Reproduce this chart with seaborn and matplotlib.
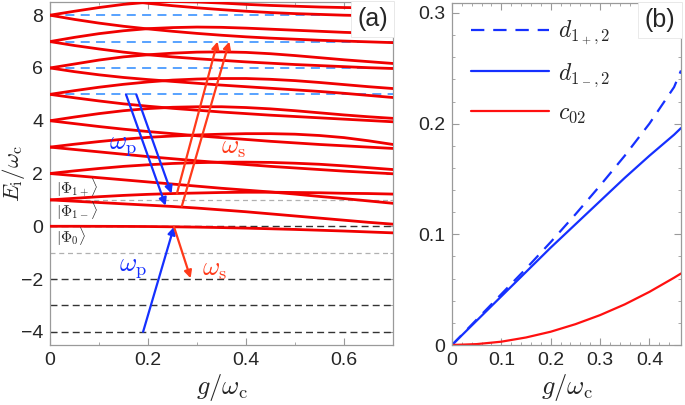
import numpy as np
import pandas as pd
import matplotlib
matplotlib.use("Agg")
import matplotlib.pyplot as plt
import seaborn as sns

# ---- panel (a): spectrum E_i / w_c vs g / w_c
g_a = [0.0, 0.05, 0.1, 0.15, 0.2, 0.25, 0.3, 0.35, 0.4, 0.45, 0.5, 0.55, 0.6, 0.65, 0.7]
e0 = [0, 0, -0.002, -0.005, -0.01, -0.02, -0.033, -0.05, -0.07, -0.095, -0.12, -0.15, -0.18, -0.215, -0.25]
e1_lo = [1.0, 0.95, 0.90, 0.85, 0.80, 0.75, 0.69, 0.62, 0.55, 0.47, 0.39, 0.31, 0.23, 0.15, 0.08]
e1_up = [1.0, 1.06, 1.12, 1.17, 1.21, 1.24, 1.26, 1.28, 1.29, 1.29, 1.28, 1.27, 1.25, 1.24, 1.22]
e2_lo = [2.0, 1.92, 1.84, 1.76, 1.68, 1.60, 1.52, 1.44, 1.37, 1.30, 1.22, 1.13, 1.05, 0.96, 0.87]
e2_up = [2.0, 2.1, 2.19, 2.27, 2.33, 2.38, 2.41, 2.43, 2.43, 2.42, 2.39, 2.35, 2.29, 2.22, 2.15]
e3_lo = [3, 2.91, 2.82, 2.73, 2.64, 2.56, 2.48, 2.41, 2.34, 2.27, 2.21, 2.15, 2.09, 2.04, 1.99]
e3_up = [3, 3.11, 3.21, 3.3, 3.37, 3.42, 3.46, 3.49, 3.51, 3.51, 3.49, 3.44, 3.36, 3.24, 3.1]
e4_lo = [4, 3.89, 3.78, 3.68, 3.59, 3.51, 3.43, 3.36, 3.29, 3.22, 3.16, 3.1, 3.05, 3.0, 2.95]
e4_up = [4, 4.14, 4.27, 4.38, 4.46, 4.51, 4.53, 4.53, 4.5, 4.45, 4.38, 4.3, 4.22, 4.15, 4.09]
e5_lo = [5, 4.87, 4.75, 4.64, 4.55, 4.47, 4.4, 4.33, 4.27, 4.21, 4.16, 4.11, 4.06, 4.01, 3.96]
e5_up = [5, 5.14, 5.27, 5.38, 5.47, 5.54, 5.58, 5.6, 5.6, 5.57, 5.52, 5.45, 5.37, 5.29, 5.22]
e6_lo = [6, 5.86, 5.74, 5.64, 5.56, 5.49, 5.42, 5.35, 5.29, 5.23, 5.17, 5.11, 5.04, 4.96, 4.88]
e6_up = [6, 6.15, 6.3, 6.42, 6.5, 6.56, 6.6, 6.61, 6.59, 6.54, 6.47, 6.39, 6.31, 6.24, 6.17]
e7_lo = [7, 6.85, 6.72, 6.6, 6.5, 6.42, 6.35, 6.29, 6.23, 6.18, 6.13, 6.09, 6.05, 6.01, 5.98]
e7_up = [7, 7.16, 7.3, 7.41, 7.49, 7.53, 7.55, 7.54, 7.51, 7.47, 7.43, 7.39, 7.35, 7.32, 7.3]
e8_lo = [8, 7.84, 7.7, 7.58, 7.48, 7.39, 7.31, 7.24, 7.18, 7.13, 7.09, 7.05, 7.02, 6.99, 6.96]
e8_up = [8, 8.15, 8.29, 8.41, 8.49, 8.52, 8.5, 8.46, 8.41, 8.37, 8.34, 8.31, 8.29, 8.28, 8.27]
e9_lo = [9, 8.83, 8.69, 8.56, 8.45, 8.36, 8.28, 8.21, 8.15, 8.1, 8.06, 8.03, 8.0, 7.98, 7.96]

levels_blue = [5, 6, 7, 8]
levels_gray = [1, -1]
levels_dark = [0, -2, -3, -4]

# transitions (start g, start E, end g, end E)
arrows_p = [(0.155, 5.0, 0.236, 0.78), (0.176, 5.0, 0.248, 1.24), (0.19, -4.0, 0.253, -0.02)]
arrows_s = [(0.259, 1.24, 0.342, 7.0), (0.269, 0.76, 0.366, 7.0), (0.253, -0.02, 0.287, -1.97)]

# ---- panel (b)
g_b = [0, 0.05, 0.1, 0.15, 0.2, 0.25, 0.3, 0.35, 0.4, 0.45, 0.464]
d1p = [0, 0.023, 0.046, 0.069, 0.093, 0.118, 0.144, 0.171, 0.2, 0.233, 0.248]
d1m = [0, 0.022, 0.044, 0.066, 0.088, 0.109, 0.13, 0.151, 0.171, 0.19, 0.196]
c02 = [0, 0.0008, 0.003, 0.0068, 0.012, 0.0188, 0.027, 0.0367, 0.048, 0.0608, 0.0646]

sns.set_theme(style="white")
plt.rcParams["font.family"] = ["Liberation Sans", "DejaVu Sans"]
plt.rcParams["mathtext.fontset"] = "cm"

RED = "#f00000"
BLUE = "#1530ff"
ORANGE = "#ff3a1a"
FRAME = "#9a9a9a"

fig = plt.figure(figsize=(6.85, 4.05), dpi=100)
ax = fig.add_axes([50 / 685, 60 / 405, 343 / 685, 343 / 405])
bx = fig.add_axes([452 / 685, 60 / 405, 229 / 685, 342 / 405])


def style_axes(a):
    for s in a.spines.values():
        s.set_color(FRAME)
        s.set_linewidth(0.9)
    a.tick_params(which="both", direction="in", color=FRAME, labelsize=14, pad=5,
                  bottom=True, left=True, top=True, right=True,
                  labeltop=False, labelright=False)
    a.tick_params(which="major", length=5, width=0.8)
    a.tick_params(which="minor", length=2.5, width=0.6)
    a.set_xlabel("")
    a.set_ylabel("")


# reference dashed levels
for y in levels_blue:
    ax.axhline(y, color="#4a9bff", lw=1.3, dashes=(5, 3.5), zorder=1)
for y in levels_gray:
    ax.axhline(y, color="#b0b0b0", lw=0.9, dashes=(4, 3), zorder=1)
for y in levels_dark:
    ax.axhline(y, color="#333333", lw=1.0, dashes=(5, 3), zorder=1)

curves = [e0, e1_lo, e1_up, e2_lo, e2_up, e3_lo, e3_up, e4_lo, e4_up,
          e5_lo, e5_up, e6_lo, e6_up, e7_lo, e7_up, e8_lo, e8_up, e9_lo]
for c in curves:
    sns.lineplot(x=g_a, y=c, ax=ax, color=RED, lw=2.0, zorder=3)

for (x0, y0, x1, y1) in arrows_p:
    ax.annotate("", xy=(x1, y1), xytext=(x0, y0),
                arrowprops=dict(arrowstyle="-|>", color=BLUE, lw=1.6,
                                mutation_scale=11, shrinkA=0, shrinkB=0), zorder=5)
for (x0, y0, x1, y1) in arrows_s:
    ax.annotate("", xy=(x1, y1), xytext=(x0, y0),
                arrowprops=dict(arrowstyle="-|>", color=ORANGE, lw=1.6,
                                mutation_scale=11, shrinkA=0, shrinkB=0), zorder=5)

ax.text(0.15, 3.05, r"$\omega_\mathrm{p}$", color=BLUE, fontsize=19, ha="center", va="center")
ax.text(0.375, 2.95, r"$\omega_\mathrm{s}$", color=ORANGE, fontsize=19, ha="center", va="center")
ax.text(0.17, -1.6, r"$\omega_\mathrm{p}$", color=BLUE, fontsize=19, ha="center", va="center")
ax.text(0.335, -1.65, r"$\omega_\mathrm{s}$", color=ORANGE, fontsize=19, ha="center", va="center")
ax.text(0.012, 1.45, r"$|\Phi_{1+}\rangle$", color="#222222", fontsize=11, ha="left", va="center")
ax.text(0.012, 0.58, r"$|\Phi_{1-}\rangle$", color="#222222", fontsize=11, ha="left", va="center")
ax.text(0.012, -0.42, r"$|\Phi_{0}\rangle$", color="#222222", fontsize=11, ha="left", va="center")
ax.text(0.985, 0.985, "(a)", transform=ax.transAxes, fontsize=18, ha="right", va="top",
        bbox=dict(boxstyle="square,pad=0.25", fc="white", ec="#e6e6e6", lw=0.6), zorder=6)

ax.set_xlim(0, 0.7)
ax.set_ylim(-4.5, 8.5)
ax.set_xticks([0, 0.2, 0.4, 0.6])
ax.set_xticklabels(["0", "0.2", "0.4", "0.6"])
ax.set_xticks([0.1, 0.3, 0.5, 0.7], minor=True)
ax.set_yticks([-4, -2, 0, 2, 4, 6, 8])
ax.set_yticklabels(["\u22124", "\u22122", "0", "2", "4", "6", "8"])
ax.set_yticks([-3, -1, 1, 3, 5, 7], minor=True)
style_axes(ax)
ax.set_xlabel(r"$g/\omega_\mathrm{c}$", fontsize=19, labelpad=2)
ax.set_ylabel(r"$E_\mathrm{i}/\omega_\mathrm{c}$", fontsize=16.5, va="center")
ax.yaxis.set_label_coords(-0.105, 0.5)

# ---- panel (b)
df_b = pd.DataFrame({"g": g_b * 3,
                     "val": d1p + d1m + c02,
                     "name": ["d1p"] * len(g_b) + ["d1m"] * len(g_b) + ["c02"] * len(g_b)})
sns.lineplot(data=df_b[df_b.name == "d1p"], x="g", y="val", ax=bx, color=BLUE, lw=1.6,
             dashes=False, linestyle=(0, (6, 4)), label=r"$d_{1_+,2}$")
sns.lineplot(data=df_b[df_b.name == "d1m"], x="g", y="val", ax=bx, color=BLUE, lw=1.6,
             label=r"$d_{1_-,2}$")
sns.lineplot(data=df_b[df_b.name == "c02"], x="g", y="val", ax=bx, color="#ff1010", lw=1.6,
             label=r"$c_{02}$")

leg = bx.legend(loc="upper left", bbox_to_anchor=(0.02, 0.995), frameon=False, fontsize=17,
                handlelength=3.3, handletextpad=0.4, labelspacing=0.55, borderaxespad=0.2)
bx.text(0.975, 0.985, "(b)", transform=bx.transAxes, fontsize=18, ha="right", va="top",
        bbox=dict(boxstyle="square,pad=0.25", fc="white", ec="#e6e6e6", lw=0.6), zorder=6)

bx.set_xlim(0, 0.464)
bx.set_ylim(0, 0.309)
bx.set_xticks([0, 0.1, 0.2, 0.3, 0.4])
bx.set_xticklabels(["0", "0.1", "0.2", "0.3", "0.4"])
bx.set_xticks(np.arange(0.02, 0.46, 0.02), minor=True)
bx.set_yticks([0, 0.1, 0.2, 0.3])
bx.set_yticklabels(["0", "0.1", "0.2", "0.3"])
bx.set_yticks(np.arange(0.02, 0.30, 0.02), minor=True)
style_axes(bx)
bx.set_xlabel(r"$g/\omega_\mathrm{c}$", fontsize=19, labelpad=2)

fig.savefig("out.png", dpi=100)
